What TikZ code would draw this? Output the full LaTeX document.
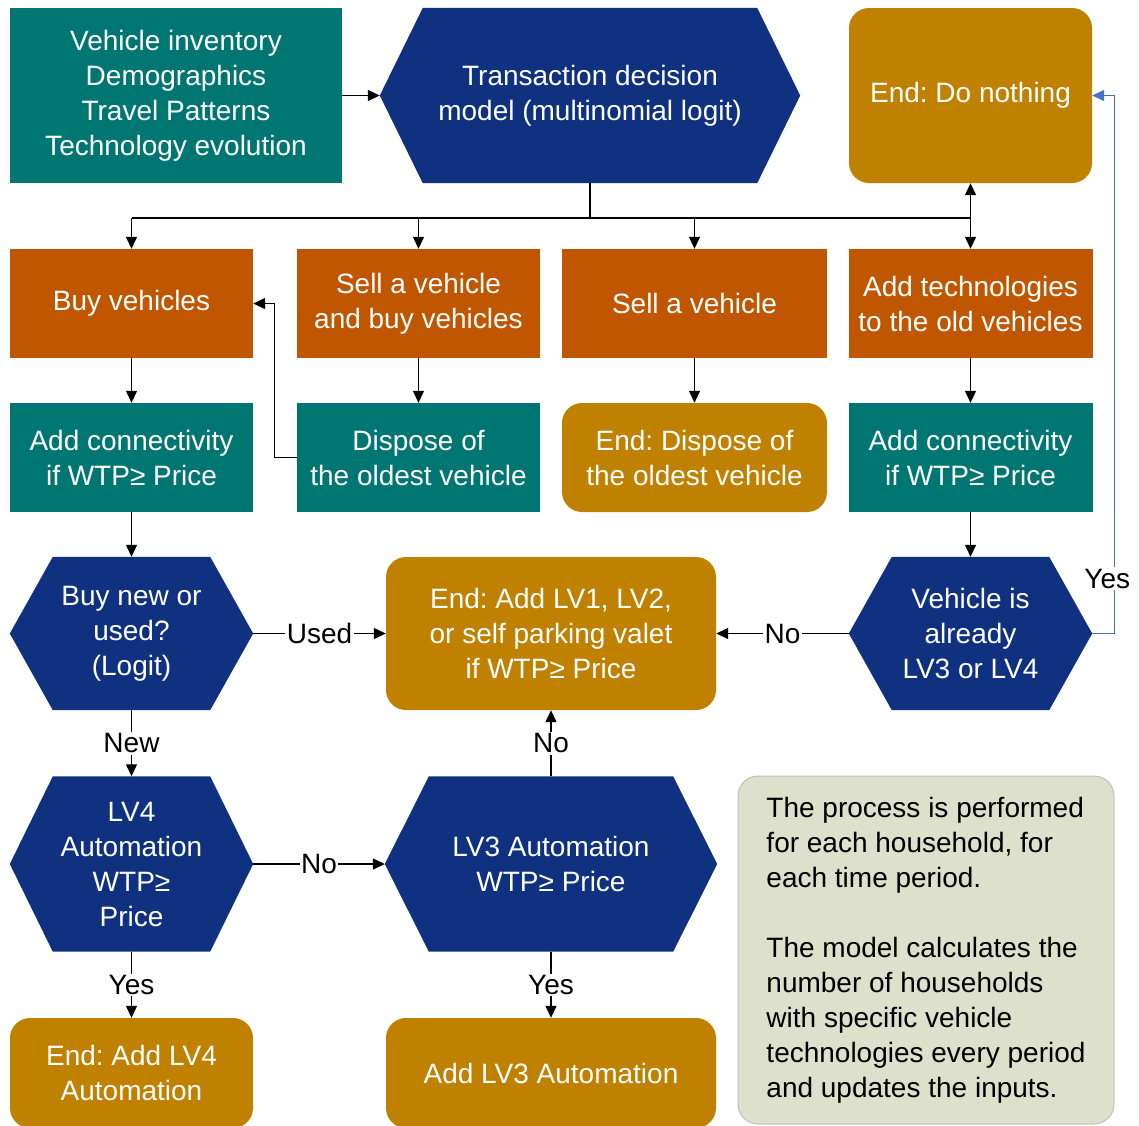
\documentclass[tikz,border=0pt]{standalone}
\usepackage{fontspec}
\setmainfont{Liberation Sans}
\usetikzlibrary{arrows.meta,backgrounds}
\frenchspacing
\definecolor{tealc}{HTML}{007672}
\definecolor{navyc}{HTML}{0F3180}
\definecolor{orc}{HTML}{C05600}
\definecolor{goldc}{HTML}{C08000}
\definecolor{notec}{HTML}{DDE0CB}
\definecolor{notebd}{HTML}{BFBFBF}
\definecolor{yesc}{HTML}{4472C4}
\newcommand\bigfs{\fontsize{28}{35}\selectfont}
\newcommand\hexfill[2]{%
  \begin{pgfonlayer}{background}
  \fill[navyc] (#1.west) -- ([xshift=#2pt]#1.north west) -- ([xshift=-#2pt]#1.north east)
    -- (#1.east) -- ([xshift=-#2pt]#1.south east) -- ([xshift=#2pt]#1.south west) -- cycle;
  \end{pgfonlayer}}
\tikzset{
  base/.style={inner sep=0pt, align=center, text=white, font=\bigfs},
  tealbox/.style={base, fill=tealc},
  orbox/.style={base, fill=orc},
  endbox/.style={base, fill=goldc, rounded corners=20pt},
  hexbox/.style={base},
  lab/.style={fill=white, text=black, inner sep=1.5pt, font=\bigfs},
  ln/.style={line width=1.3pt, black},
  arr/.style={ln, -{Triangle[length=12pt,width=11pt]}},
  bluearr/.style={line width=1pt, yesc, -{Triangle[length=12pt,width=11pt]}},
}
\begin{document}
\begin{tikzpicture}[x=1pt,y=-1pt]
\useasboundingbox (0,0) rectangle (1139,1125);
\clip (0,0) rectangle (1139,1125);

% row 1
\node[tealbox, minimum width=332pt, minimum height=175pt] (inp) at (176,95.5)
  {Vehicle inventory\\Demographics\\Travel Patterns\\Technology evolution};
\node[hexbox, minimum width=420pt, minimum height=175pt] (trans) at (590,95.5)
  {Transaction decision\\model (multinomial logit)};
\hexfill{trans}{43}
\node[endbox, minimum width=243pt, minimum height=175pt] (nothing) at (970.5,95.5)
  {End: Do nothing};

% row 2
\node[orbox, minimum width=243pt, minimum height=109pt] (buy) at (131.5,303.5) {Buy vehicles};
\node[orbox, minimum width=243pt, minimum height=109pt] (sellbuy) at (418.5,303.5) {Sell a vehicle\\and buy vehicles};
\node[orbox, minimum width=265pt, minimum height=109pt] (sell) at (694.5,303.5) {Sell a vehicle};
\node[orbox, minimum width=244pt, minimum height=109pt] (addtech) at (970.5,303.5) {Add technologies\\to the old vehicles};

% row 3
\node[tealbox, minimum width=243pt, minimum height=109pt] (conn1) at (131.5,457.5) {Add connectivity\\if WTP≥ Price};
\node[tealbox, minimum width=243pt, minimum height=109pt] (dispose) at (418.5,457.5) {Dispose of\\the oldest vehicle};
\node[endbox, minimum width=265pt, minimum height=109pt] (enddisp) at (694.5,457.5) {End: Dispose of\\the oldest vehicle};
\node[tealbox, minimum width=244pt, minimum height=109pt] (conn2) at (970.5,457.5) {Add connectivity\\if WTP≥ Price};

% row 4
\node[hexbox, minimum width=243pt, minimum height=153pt] (buynew) at (131.5,633.5) {Buy new or\\used?\\(Logit)};
\hexfill{buynew}{43}
\node[endbox, minimum width=330pt, minimum height=153pt] (endlv) at (551,633.5) {End: Add LV1, LV2,\\or self parking valet\\if WTP≥ Price};
\node[hexbox, minimum width=243pt, minimum height=153pt] (already) at (970.5,633.5) {Vehicle is\\already\\LV3 or LV4};
\hexfill{already}{43}

% row 5
\node[hexbox, minimum width=243pt, minimum height=175pt] (lvfour) at (131.5,864) {LV4\\Automation\\WTP≥\\Price};
\hexfill{lvfour}{43}
\node[hexbox, minimum width=332pt, minimum height=175pt] (lvthree) at (551,864) {LV3 Automation\\WTP≥ Price};
\hexfill{lvthree}{44}
\node[base, text=black, align=left, fill=notec, draw=notebd, line width=1pt, rounded corners=20pt,
  minimum width=376pt, minimum height=348pt] (note) at (926,950)
  {The process is performed\\for each household, for\\each time period.\\[35pt]The model calculates the\\number of households\\with specific vehicle\\technologies every period\\and updates the inputs.};

% row 6
\node[endbox, minimum width=243pt, minimum height=110pt] (endfour) at (131.5,1073) {End: Add LV4\\Automation};
\node[endbox, minimum width=330pt, minimum height=110pt] (addthree) at (551,1073) {Add LV3 Automation};

% connectors
\coordinate (bus) at (590,218);
\draw[arr] (inp.east) -- (trans.west);
\draw[ln] (trans.south) -- (bus);
\draw[ln] (buy.north |- bus) -- (addtech.north |- bus);
\draw[arr] (buy.north |- bus) -- (buy.north);
\draw[arr] (sellbuy.north |- bus) -- (sellbuy.north);
\draw[arr] (sell.north |- bus) -- (sell.north);
\draw[arr] (addtech.north |- bus) -- (addtech.north);
\draw[arr] (addtech.north |- bus) -- (nothing.south);

\draw[arr] (buy.south) -- (conn1.north);
\draw[arr] (sellbuy.south) -- (dispose.north);
\draw[arr] (sell.south) -- (enddisp.north);
\draw[arr] (addtech.south) -- (conn2.north);
\draw[arr] (dispose.west) -- ++(-22,0) |- (buy.east);

\draw[arr] (conn1.south) -- (buynew.north);
\draw[arr] (conn2.south) -- (already.north);
\draw[arr] (buynew.east) -- node[lab]{Used} (endlv.west);
\draw[arr] (already.west) -- node[lab]{No} (endlv.east);
\draw[bluearr] (already.east) -- ++(22,0) |- node[lab, pos=0.051, xshift=-7pt]{Yes} (nothing.east);

\draw[arr] (buynew.south) -- node[lab]{New} (lvfour.north);
\draw[arr] (lvfour.east) -- node[lab]{No} (lvthree.west);
\draw[arr] (lvthree.north) -- node[lab]{No} (endlv.south);
\draw[arr] (lvfour.south) -- node[lab]{Yes} (endfour.north);
\draw[arr] (lvthree.south) -- node[lab]{Yes} (addthree.north);
\end{tikzpicture}
\end{document}
